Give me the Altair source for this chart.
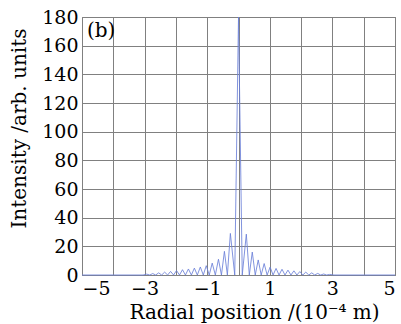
import altair as alt
import pandas as pd

# Radial positions (10^-4 m) and intensities
xs = [-5.0, -3.05, -2.93, -2.835, -2.74, -2.645, -2.55, -2.455, -2.36, -2.265, -2.17, -2.075,
      -1.98, -1.885, -1.79, -1.695, -1.60, -1.505, -1.41, -1.315, -1.22, -1.125, -1.03, -0.935,
      -0.84, -0.74, -0.64, -0.545, -0.45, -0.355, -0.26, -0.12, 0.0, 0.12,
      0.25, 0.345, 0.44, 0.535, 0.63, 0.725, 0.82, 0.915, 1.01, 1.105, 1.20, 1.295, 1.39,
      1.485, 1.58, 1.675, 1.77, 1.865, 1.96, 2.055, 2.15, 2.245, 2.34, 2.435, 2.53, 2.625,
      2.72, 2.815, 2.91, 3.05, 5.0]
ys = [0, 0, 0.6, 0, 1.0, 0, 1.5, 0, 2.0, 0, 2.5, 0,
      3.1, 0, 3.7, 0, 4.2, 0, 4.8, 0, 5.6, 0, 6.5, 0,
      8.3, 0, 11.0, 0, 16.5, 0, 29.0, 0, 180.0, 0,
      28.5, 0, 16.0, 0, 10.5, 0, 8.0, 0, 5.5, 0, 4.6, 0, 4.0,
      0, 3.4, 0, 2.9, 0, 2.4, 0, 2.0, 0, 1.5, 0, 1.1, 0,
      0.7, 0, 0.4, 0, 0]

x_ticks = [-5, -4, -3, -2, -1, 0, 1, 2, 3, 4, 5]
y_ticks = [0, 20, 40, 60, 80, 100, 120, 140, 160, 180]

df = pd.DataFrame({"x": xs, "y": ys})

FONT = "DejaVu Serif"

line = alt.Chart(df).mark_line(color="#6a80d8", strokeWidth=0.85).encode(
    x=alt.X("x:Q", scale=alt.Scale(domain=[-5, 5], nice=False),
            axis=alt.Axis(values=x_ticks, title="Radial position /(10⁻⁴ m)",
                          labelExpr="datum.value % 2 != 0 ? replace(datum.label, '-', '−') : ''",
                          titleX=172, titleY=27, titleBaseline="top")),
    y=alt.Y("y:Q", scale=alt.Scale(domain=[0, 180], nice=False),
            axis=alt.Axis(values=y_ticks, title="Intensity /arb. units",
                          titleX=-63, titleY=111, titleBaseline="middle")),
)

label = alt.Chart(pd.DataFrame({"t": ["(b)"]})).mark_text(
    font=FONT, fontSize=20, align="left", baseline="top", color="black"
).encode(x=alt.value(5), y=alt.value(4), text="t:N")

chart = (line + label).properties(
    width=313, height=258,
    background="white",
    autosize=alt.AutoSizeParams(type="none"),
    padding={"left": 82, "top": 17, "right": 6, "bottom": 49},
).configure_view(
    stroke="#707070", strokeWidth=1
).configure_axis(
    grid=True, gridColor="#808080", gridOpacity=1, gridWidth=1,
    domain=False, ticks=False,
    labelFont=FONT, labelFontSize=19, labelColor="black", labelPadding=4,
    titleFont=FONT, titleFontSize=20, titleFontWeight="normal", titleColor="black",
)

chart.save("out.html", embed_options={"renderer": "svg", "actions": False})
